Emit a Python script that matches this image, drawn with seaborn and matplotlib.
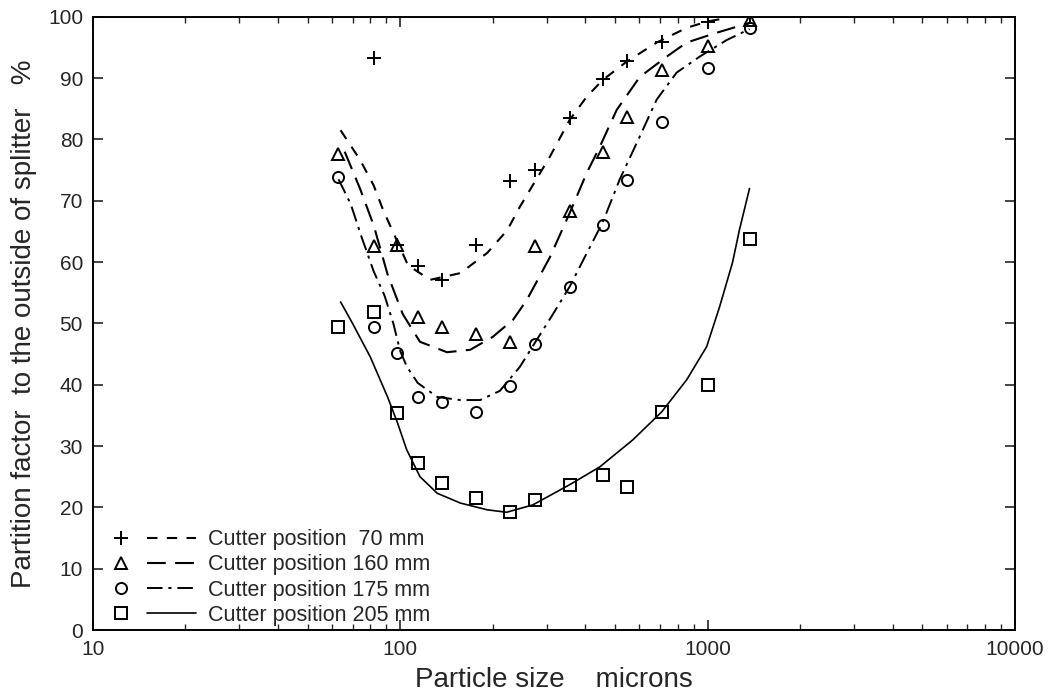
import matplotlib
matplotlib.use("Agg")
import matplotlib.pyplot as plt
import seaborn as sns
from matplotlib.legend_handler import HandlerTuple
from matplotlib.ticker import LogLocator, FixedLocator, NullFormatter

# ---------------- data ----------------
size_70 = [82, 98, 114, 137, 177, 228, 274, 356, 456, 546, 710, 1000, 1370]
pf_70 = [93.3, 62.8, 59.3, 57.1, 62.8, 73.3, 75.0, 83.5, 89.8, 92.8, 95.9, 99.1, 99.9]

size_160 = [63, 82, 98, 114, 137, 177, 228, 274, 356, 456, 546, 710, 1000, 1370]
pf_160 = [77.7, 62.6, 62.8, 51.0, 49.4, 48.3, 47.0, 62.6, 68.4, 77.9, 83.7, 91.4, 95.2, 99.5]

size_175 = [63, 82, 98, 114, 137, 177, 228, 274, 356, 456, 546, 710, 1000, 1370]
pf_175 = [73.9, 49.4, 45.2, 38.0, 37.2, 35.6, 39.8, 46.7, 56.0, 66.1, 73.4, 82.9, 91.7, 98.2]

size_205 = [63, 82, 98, 114, 137, 177, 228, 274, 356, 456, 546, 710, 1000, 1370]
pf_205 = [49.4, 51.9, 35.4, 27.2, 24.0, 21.5, 19.2, 21.2, 23.6, 25.3, 23.3, 35.6, 40.0, 63.8]

# fitted curves
fit70_x = [64, 74, 82, 88, 95, 106, 125, 157, 192, 223, 245, 307, 356, 405, 456, 546, 683, 855, 993, 1094]
fit70_y = [81.5, 76.7, 72.5, 68.5, 64.8, 59.5, 57.1, 58.2, 61.5, 65.2, 69.0, 77.2, 83.2, 87.0, 89.7, 92.7, 95.8, 98.2, 99.2, 99.6]

fit160_x = [66, 74, 82, 91, 102, 116, 142, 169, 200, 233, 258, 307, 356, 405, 446, 506, 602, 736, 855, 1070, 1369]
fit160_y = [78, 72, 66, 58, 51.5, 47, 45.3, 45.7, 47.8, 50.6, 53.8, 60.8, 68, 74.6, 78.8, 84.8, 90.2, 93.5, 95.8, 97.4, 99.0]

fit175_x = [63, 69, 75, 82, 89, 95, 100, 105, 114, 132, 157, 182, 211, 245, 274, 314, 356, 405, 456, 518, 602, 683, 793, 942, 1153, 1369]
fit175_y = [73.5, 69.5, 64, 58.5, 54.5, 50, 45.5, 43, 40.3, 38, 37.5, 37.5, 39, 42.9, 46.8, 51.5, 56, 61.5, 66.5, 73.5, 80.5, 86.5, 90.9, 93.5, 96.2, 98]

fit205_x = [64, 70, 80, 91, 98, 105, 116, 132, 157, 192, 222, 270, 356, 446, 571, 710, 855, 993, 1094, 1205, 1270, 1369]
fit205_y = [53.5, 50, 44.5, 38, 33.8, 29.4, 25, 22.3, 20.7, 19.6, 19.2, 20.4, 23.7, 26.6, 31.0, 35.6, 40.8, 46.2, 52.7, 59.9, 65.3, 72]

legend_labels = ["Cutter position  70 mm", "Cutter position 160 mm",
                 "Cutter position 175 mm", "Cutter position 205 mm"]
x_ticks = [10, 100, 1000, 10000]
y_ticks = [0, 10, 20, 30, 40, 50, 60, 70, 80, 90, 100]

# ---------------- styling ----------------
sns.set_style("ticks")
plt.rcParams["font.family"] = ["Liberation Sans", "DejaVu Sans"]

fig = plt.figure(figsize=(10.54, 7.0), dpi=100)
ax = fig.add_axes([0.088, 0.1, 0.875, 0.876])

series = [
    (size_70, pf_70, fit70_x, fit70_y, "+", (0, (5, 4.5)), 1.5),
    (size_160, pf_160, fit160_x, fit160_y, "^", (0, (9, 4.5)), 1.5),
    (size_175, pf_175, fit175_x, fit175_y, "o", (0, (8, 3, 1.6, 3)), 1.4),
    (size_205, pf_205, fit205_x, fit205_y, "s", "-", 1.2),
]

handles = []
for sx, sy, fx, fy, mk, ls, lw in series:
    sns.lineplot(x=fx, y=fy, ax=ax, estimator=None, sort=False, color="black",
                 linestyle=ls, linewidth=lw)
    line_h = ax.lines[-1]
    sns.lineplot(x=sx, y=sy, ax=ax, estimator=None, sort=False, color="black",
                 linestyle="none", marker=mk, markersize=8 if mk != "+" else 10,
                 markerfacecolor="none", markeredgecolor="black",
                 markeredgewidth=1.4)
    mark_h = ax.lines[-1]
    handles.append((mark_h, line_h))

ax.set_xscale("log")
ax.set_xlim(10, 10000)
ax.set_ylim(0, 100)
ax.xaxis.set_major_locator(FixedLocator(x_ticks))
ax.set_xticklabels([str(t) for t in x_ticks])
ax.xaxis.set_minor_locator(LogLocator(base=10, subs=range(2, 10)))
ax.xaxis.set_minor_formatter(NullFormatter())
ax.yaxis.set_major_locator(FixedLocator(y_ticks))
ax.set_yticklabels([str(t) for t in y_ticks])

ax.tick_params(axis="both", which="major", direction="in", length=7, width=1.2,
               labelsize=15, top=True, right=True, pad=7)
ax.tick_params(axis="x", which="minor", direction="in", length=4, width=1.0,
               top=True)
for sp in ax.spines.values():
    sp.set_linewidth(1.4)
    sp.set_color("black")

ax.set_xlabel("Particle size    microns", fontsize=20, labelpad=6)
ax.set_ylabel("Partition factor  to the outside of splitter   %", fontsize=20,
              labelpad=8)

leg = ax.legend(handles, legend_labels,
                handler_map={tuple: HandlerTuple(ndivide=None, pad=0.05)},
                loc="lower left", bbox_to_anchor=(-0.012, -0.018), frameon=False,
                fontsize=15.5, handlelength=4.6, handletextpad=0.55,
                labelspacing=0.2, borderaxespad=0.3)

fig.savefig("out.png", dpi=100)
